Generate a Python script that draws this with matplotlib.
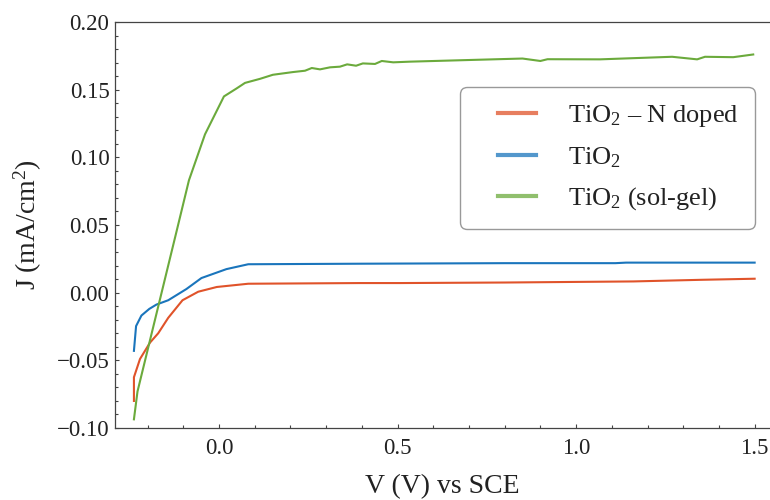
import matplotlib
matplotlib.use("Agg")
import numpy as np
import matplotlib.pyplot as plt
from matplotlib.ticker import MultipleLocator, FuncFormatter
from matplotlib.legend_handler import HandlerLine2D

plt.rcParams['font.family'] = ['Liberation Serif', 'DejaVu Serif']
plt.rcParams['mathtext.fontset'] = 'custom'
plt.rcParams['mathtext.rm'] = 'Liberation Serif'
plt.rcParams['mathtext.it'] = 'Liberation Serif:italic'

# --- data ---
v_ndoped = [-0.238, -0.238, -0.238, -0.221, -0.193, -0.170, -0.142, -0.102, -0.058, -0.006,
            0.082, 0.395, 0.507, 0.80, 1.16, 1.35, 1.50]
j_ndoped = [-0.080, -0.0625, -0.0625, -0.049, -0.0369, -0.030, -0.0186, -0.0056, 0.0007, 0.0042,
            0.0066, 0.0071, 0.0071, 0.0075, 0.0083, 0.0095, 0.0103]

v_tio2 = [-0.238, -0.232, -0.217, -0.195, -0.175, -0.142, -0.091, -0.049, 0.021, 0.082,
          0.40, 0.80, 1.11, 1.14, 1.50]
j_tio2 = [-0.043, -0.0247, -0.0169, -0.012, -0.0088, -0.0056, 0.0027, 0.0108, 0.0174, 0.021,
          0.0214, 0.0218, 0.0218, 0.0222, 0.0222]

v_solgel = [-0.238, -0.228, -0.118, -0.084, -0.039, 0.014, 0.05, 0.073, 0.115, 0.151,
            0.207, 0.241, 0.26, 0.283, 0.311, 0.339, 0.359, 0.384, 0.403, 0.437,
            0.456, 0.488, 0.535, 0.78, 0.85, 0.90, 0.92, 1.067, 1.269, 1.339,
            1.361, 1.44, 1.496]
j_solgel = [-0.0936, -0.073, 0.046, 0.083, 0.117, 0.145, 0.151, 0.155, 0.158, 0.161,
            0.163, 0.164, 0.166, 0.165, 0.1665, 0.167, 0.1687, 0.1677, 0.1694, 0.169,
            0.1712, 0.1702, 0.1707, 0.1725, 0.173, 0.1712, 0.1725, 0.1724, 0.1743, 0.1724,
            0.1743, 0.174, 0.176]

labels = [r'TiO$_\mathrm{2}$ – N doped', r'TiO$_\mathrm{2}$', r'TiO$_\mathrm{2}$ (sol-gel)']
colors = ['#E0532A', '#1A75BC', '#6BAA3C']


class OffsetLineHandler(HandlerLine2D):
    """Draw the legend sample line only on the right part of the handle box."""
    def __init__(self, offset_px, **kw):
        super().__init__(**kw)
        self.offset_px = offset_px

    def get_xdata(self, legend, xdescent, ydescent, width, height, fontsize):
        xd = np.array([-xdescent + self.offset_px, -xdescent + width], dtype=float)
        return xd, xd


fig = plt.figure(figsize=(7.7, 5.0), dpi=100)
ax = fig.add_axes([115/770, 72/500, 655/770, 406/500])

lines = []
for v, j, c, lab in zip([v_ndoped, v_tio2, v_solgel], [j_ndoped, j_tio2, j_solgel], colors, labels):
    ln, = ax.plot(v, j, color=c, lw=1.5, label=lab, solid_joinstyle='round')
    lines.append(ln)

ax.set_xlim(-0.291, 1.543)
ax.set_ylim(-0.10, 0.20)

ax.xaxis.set_major_locator(MultipleLocator(0.5))
ax.xaxis.set_minor_locator(MultipleLocator(0.1))
ax.yaxis.set_major_locator(MultipleLocator(0.05))
ax.yaxis.set_minor_locator(MultipleLocator(0.01))
ax.xaxis.set_major_formatter(FuncFormatter(lambda x, p: ('%.1f' % x).replace('-', '\u2212')))
ax.yaxis.set_major_formatter(FuncFormatter(lambda y, p: ('%.2f' % (0.0 if abs(y) < 1e-9 else y)).replace('-', '\u2212')))

spine_c = '#444444'
for s in ['left', 'bottom', 'top']:
    ax.spines[s].set_color(spine_c)
    ax.spines[s].set_linewidth(0.9)
ax.spines['right'].set_visible(False)

ax.tick_params(which='both', direction='in', color=spine_c, width=0.8,
               top=False, right=False, labelsize=16.5, labelcolor='#222222')
ax.tick_params(which='major', length=3)
ax.tick_params(which='minor', length=2)
ax.tick_params(axis='x', which='major', pad=7)
ax.tick_params(axis='y', which='major', pad=4)

ax.set_xlabel('V (V) vs SCE', fontsize=20, color='#222222')
ax.set_ylabel(r'J (mA/cm$^\mathrm{2}$)', fontsize=20, color='#222222')
ax.xaxis.set_label_coords(0.5, -0.113)
ax.yaxis.set_label_coords(-0.108, 0.5)

handler = OffsetLineHandler(22 * 72 / 100)
leg = ax.legend(loc='upper right', bbox_to_anchor=(0.977, 0.840), fontsize=19,
                handlelength=2.27, handletextpad=1.2, labelspacing=0.6,
                borderpad=0.62, borderaxespad=0.0, frameon=True, fancybox=True,
                framealpha=1.0, edgecolor='#999999',
                handler_map={ln: handler for ln in lines})
leg.get_frame().set_linewidth(1.0)
leg.get_frame().set_boxstyle('round', pad=0, rounding_size=0.25)
for l in leg.get_lines():
    l.set_alpha(0.75)
    l.set_linewidth(3)
for t in leg.get_texts():
    t.set_color('#222222')

fig.savefig('out.png', dpi=100)
